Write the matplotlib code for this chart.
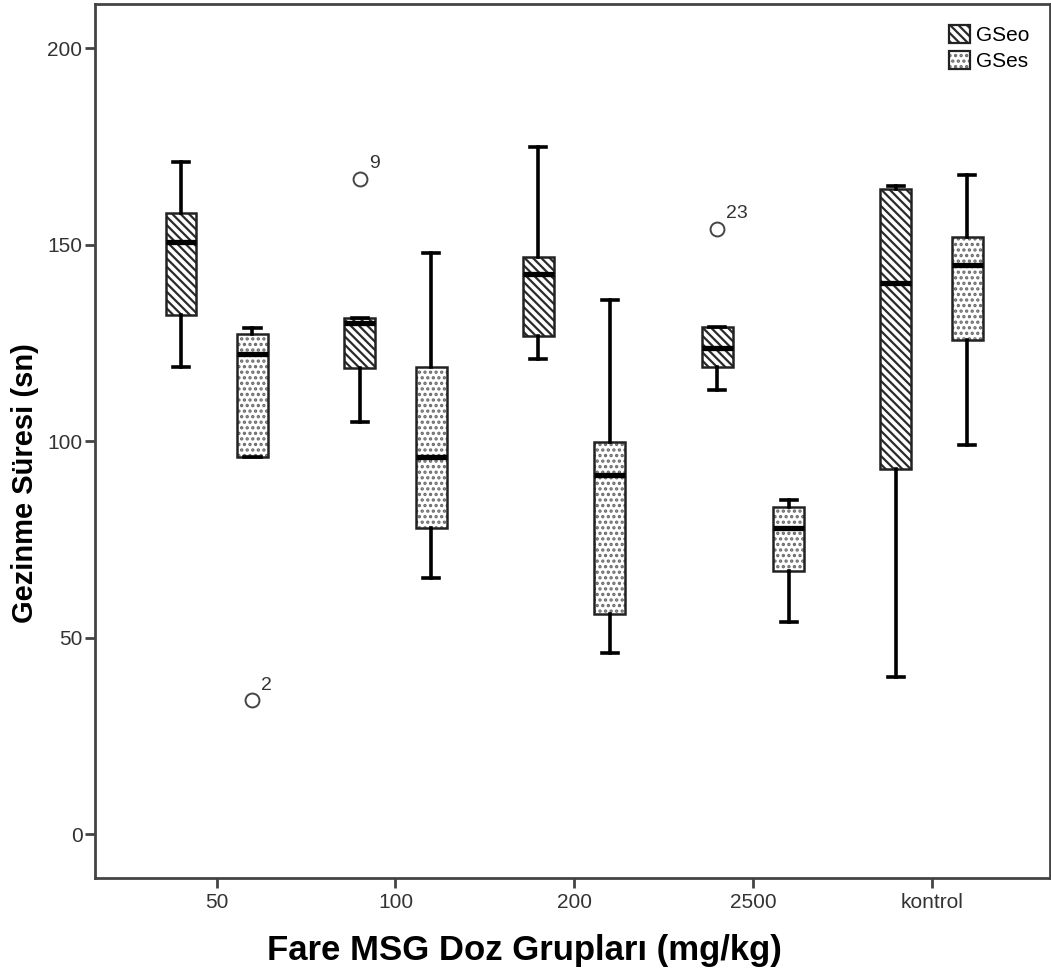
import matplotlib.pyplot as plt
import matplotlib.colors as mcolors
from matplotlib.patches import Patch

plt.rcParams['font.family'] = ['Liberation Sans', 'DejaVu Sans']
plt.rcParams['hatch.linewidth'] = 1.6

groups = ['50', '100', '200', '2500', 'kontrol']

# GSeo five-number summaries per dose group
gseo_whislo = [119.0, 105.0, 121.0, 113.0, 40.0]
gseo_q1 = [132.0, 118.6, 126.8, 118.9, 92.9]
gseo_med = [150.6, 130.0, 142.6, 123.7, 140.4]
gseo_q3 = [158.2, 131.3, 147.0, 129.0, 164.1]
gseo_whishi = [171.0, 131.3, 175.0, 129.0, 165.0]
gseo_fliers = [[], [166.8], [], [154.0], []]
gseo_flier_ids = [[], ['9'], [], ['23'], []]

# GSes five-number summaries per dose group
gses_whislo = [96.0, 65.2, 46.1, 53.9, 99.0]
gses_q1 = [96.0, 78.0, 55.9, 67.0, 125.8]
gses_med = [122.2, 96.0, 91.5, 77.8, 144.8]
gses_q3 = [127.2, 118.8, 99.8, 83.2, 151.9]
gses_whishi = [128.7, 147.8, 135.9, 85.0, 167.8]
gses_fliers = [[34.0], [], [], [], []]
gses_flier_ids = [['2'], [], [], [], []]

series = [
    ('GSeo', -0.2, '\\\\\\\\', '#2a2a2a',
     gseo_whislo, gseo_q1, gseo_med, gseo_q3, gseo_whishi, gseo_fliers, gseo_flier_ids),
    ('GSes', 0.2, '...', '#6a6a6a',
     gses_whislo, gses_q1, gses_med, gses_q3, gses_whishi, gses_fliers, gses_flier_ids),
]

fig = plt.figure(figsize=(10.51, 9.77), dpi=100)
ax = fig.add_axes([95 / 1051, 1 - 878 / 977, (1050 - 95) / 1051, (878 - 4) / 977])

handles = []
for name, offset, hatch, hcolor, wlo, q1, med, q3, whi, fl, ids in series:
    stats = []
    for i in range(len(groups)):
        stats.append(dict(whislo=wlo[i], q1=q1[i], med=med[i], q3=q3[i],
                          whishi=whi[i], fliers=fl[i]))
    pos = [i + offset for i in range(len(groups))]
    bp = ax.bxp(stats, positions=pos, widths=0.173, capwidths=0.09,
                patch_artist=True, showfliers=True,
                boxprops=dict(facecolor='white', edgecolor='#222222', linewidth=1.8),
                whiskerprops=dict(color='black', linewidth=2.6),
                capprops=dict(color='black', linewidth=2.6),
                medianprops=dict(color='black', linewidth=3.8, solid_capstyle='butt'),
                flierprops=dict(marker='o', markersize=10, markerfacecolor='none',
                                markeredgecolor='#444444', markeredgewidth=1.4))
    for box in bp['boxes']:
        box.set_hatch(hatch)
        box._hatch_color = mcolors.to_rgba(hcolor)
        box.set_zorder(2)
    for i in range(len(groups)):
        for v, lab in zip(fl[i], ids[i]):
            ax.annotate(lab, (pos[i], v), xytext=(6.5, 5), textcoords='offset points',
                        fontsize=14, color='#333333', ha='left', va='bottom')
    h = Patch(facecolor='white', edgecolor='#222222', hatch=hatch, linewidth=1.6)
    h._hatch_color = mcolors.to_rgba(hcolor)
    handles.append((h, name))

ax.set_xlim(-0.681, 4.662)
ax.set_ylim(-11.2, 211.3)
ax.set_xticks(range(len(groups)))
ax.set_xticklabels(groups)
ax.set_yticks([0, 50, 100, 150, 200])

for s in ax.spines.values():
    s.set_color('#444444')
    s.set_linewidth(2.0)
ax.tick_params(axis='both', direction='out', length=7, width=2.0, color='#444444',
               labelsize=15, labelcolor='#333333')
ax.tick_params(axis='x', pad=4)
ax.tick_params(axis='y', pad=2)

ax.set_xlabel('Fare MSG Doz Grupları (mg/kg)', fontsize=25, fontweight='bold')
ax.set_ylabel('Gezinme Süresi (sn)', fontsize=21, fontweight='bold')
ax.xaxis.set_label_coords(0.450, -0.064)
ax.yaxis.set_label_coords(-0.0586, 0.452)

leg = ax.legend([h for h, _ in handles], [n for _, n in handles], loc='upper right',
                frameon=False, fontsize=15, handlelength=1.0, handleheight=1.0,
                handletextpad=0.3, labelspacing=0.25, borderaxespad=0.6)

fig.savefig('out.png', dpi=100)
